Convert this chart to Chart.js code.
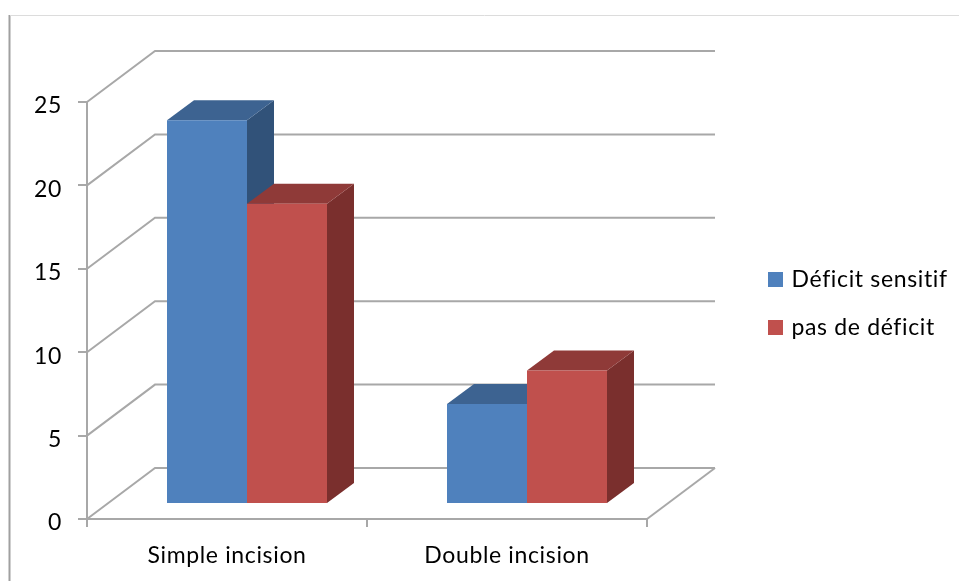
<!DOCTYPE html>
<html>
<head>
<meta charset="utf-8">
<script src="https://cdn.jsdelivr.net/npm/chart.js@4"></script>
<style>
html,body{margin:0;padding:0;background:#fff;overflow:hidden;}
#wrap{position:absolute;left:0;top:0;width:959px;height:581px;}
canvas{display:block;filter:blur(0.55px);}
</style>
</head>
<body>
<div id="wrap"><canvas id="c" width="959" height="581"></canvas></div>
<script>
const categories = ["Simple incision", "Double incision"];
const deficitSensitif = [23, 6];
const pasDeDeficit = [18, 8];
const yTicks = [0, 5, 10, 15, 20, 25];

const FONT = "Lato";
const FONT_SIZE = 23;
const SPACING = "0.65px";
const GRID = "#a8a8a8";
const WALL = {dx: 68, dy: -51};
const BAR_DEPTH = {dx: 27, dy: -20};
const BAR_SHIFT = {dx: 20, dy: -15};
const SHADES = [
  {front: "#4F81BD", top: "#3D6391", side: "#315279"},
  {front: "#C0504D", top: "#8F3A38", side: "#7A2F2D"}
];

function poly(ctx, pts, fill){
  ctx.beginPath();
  pts.forEach((p,i)=> i ? ctx.lineTo(p[0],p[1]) : ctx.moveTo(p[0],p[1]));
  ctx.closePath();
  ctx.fillStyle = fill;
  ctx.fill();
}

const walls = {
  id: "walls",
  beforeLayout(chart){ chart.ctx.letterSpacing = SPACING; },
  beforeDraw(chart){ chart.ctx.letterSpacing = SPACING; },
  beforeDatasetsDraw(chart){
    const {ctx, scales:{x,y}} = chart;
    ctx.save();
    // outer frame of the picture
    ctx.lineWidth = 2; ctx.strokeStyle = "#a0a0a0";
    ctx.beginPath(); ctx.moveTo(9.5,15); ctx.lineTo(9.5,581); ctx.stroke();
    ctx.lineWidth = 1; ctx.strokeStyle = "#dcdcdc";
    ctx.beginPath(); ctx.moveTo(10,15.5); ctx.lineTo(959,15.5); ctx.stroke();
    // back wall, left wall and floor grid
    ctx.lineWidth = 2; ctx.strokeStyle = GRID;
    yTicks.forEach(v=>{
      const py = y.getPixelForValue(v);
      ctx.beginPath();
      ctx.moveTo(x.left, py);
      ctx.lineTo(x.left+WALL.dx, py+WALL.dy);
      ctx.lineTo(x.right+WALL.dx, py+WALL.dy);
      ctx.stroke();
    });
    const p0 = y.getPixelForValue(0);
    ctx.beginPath();
    ctx.moveTo(x.right, p0);
    ctx.lineTo(x.right+WALL.dx, p0+WALL.dy);
    ctx.stroke();
    ctx.restore();

    // depth faces of every bar, first series first; the front faces come after
    ctx.save();
    ctx.translate(BAR_SHIFT.dx, BAR_SHIFT.dy);
    chart.data.datasets.forEach((ds,i)=>{
      const shade = SHADES[i];
      chart.getDatasetMeta(i).data.forEach(b=>{
        const p = b.getProps(["x","y","base","width"], true);
        const l = p.x-p.width/2, r = p.x+p.width/2;
        const d = BAR_DEPTH;
        poly(ctx, [[r,p.y],[r+d.dx,p.y+d.dy],[r+d.dx,p.base+d.dy],[r,p.base]], shade.side);
        poly(ctx, [[l,p.y],[l+d.dx,p.y+d.dy],[r+d.dx,p.y+d.dy],[r,p.y]], shade.top);
      });
    });
    ctx.restore();
  },
  beforeDatasetDraw(chart){
    chart.ctx.save();
    chart.ctx.translate(BAR_SHIFT.dx, BAR_SHIFT.dy);
  },
  afterDatasetDraw(chart){
    chart.ctx.restore();
  },
  afterLayout(chart){
    const l = chart.legend;
    if(!l) return;
    l.left = 746; l.right = 959; l.top = 243; l.bottom = 581;
    l.width = 213; l.height = 338;
  }
};

new Chart(document.getElementById("c"), {
  type: "bar",
  data: {
    labels: categories,
    datasets: [
      {label: "Déficit sensitif", data: deficitSensitif, backgroundColor: SHADES[0].front, clip: false,
       categoryPercentage: 160/280, barPercentage: 1},
      {label: "pas de déficit", data: pasDeDeficit, backgroundColor: SHADES[1].front, clip: false,
       categoryPercentage: 160/280, barPercentage: 1}
    ]
  },
  plugins: [walls],
  options: {
    responsive: false,
    animation: false,
    devicePixelRatio: 1,
    layout: {padding: {left: 0, top: 102, right: 312, bottom: 0}},
    plugins: {
      tooltip: {enabled: false},
      legend: {
        position: "chartArea",
        align: "start",
        labels: {
          boxWidth: 9, boxHeight: 9, padding: 25,
          color: "#000",
          font: {family: FONT, size: FONT_SIZE},
          generateLabels(chart){
            return chart.data.datasets.map((d,i)=>({
              text: d.label, datasetIndex: i,
              fillStyle: d.backgroundColor, strokeStyle: d.backgroundColor,
              lineWidth: 6, hidden: false
            }));
          }
        }
      }
    },
    scales: {
      x: {
        grid: {display: true, drawOnChartArea: false, drawTicks: true, tickLength: 8, color: GRID, lineWidth: 2},
        border: {display: true, color: GRID, width: 2},
        ticks: {color: "#000", padding: 15, font: {family: FONT, size: FONT_SIZE}, maxRotation: 0},
        afterFit(s){ s.height = 62; }
      },
      y: {
        min: 0, max: 25,
        grid: {display: true, drawOnChartArea: false, drawTicks: true, tickLength: 9, color: GRID, lineWidth: 2},
        border: {display: true, color: GRID, width: 2},
        ticks: {color: "#000", padding: 16, stepSize: 5, labelOffset: 4, font: {family: FONT, size: FONT_SIZE}},
        afterFit(s){ s.width = 87; }
      }
    }
  }
});
</script>
</body>
</html>
